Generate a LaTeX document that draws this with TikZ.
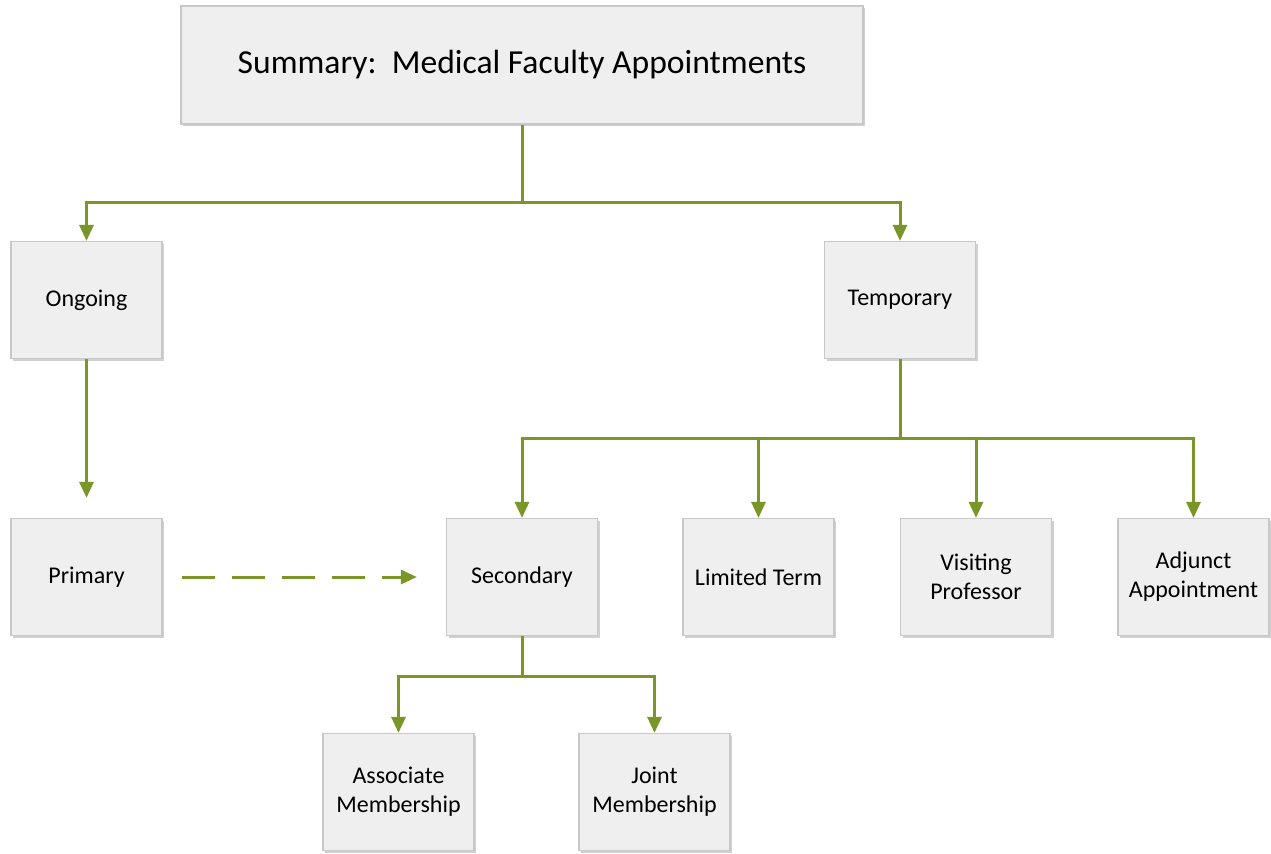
\documentclass[tikz,border=0pt]{standalone}
\usepackage{fontspec}
\setmainfont{Carlito}
\usepackage{tikz}
\usetikzlibrary{arrows.meta, shadows}

\definecolor{olive}{RGB}{122,150,40}
\definecolor{boxfill}{RGB}{239,239,239}
\definecolor{boxline}{RGB}{200,200,200}

\begin{document}
\begin{tikzpicture}[
  x=0.5pt, y=-0.5pt,
  every node/.style={font=\fontsize{12}{14.5}\selectfont},
  unit/.style={rectangle, draw=boxline, fill=boxfill, line width=0.6pt,
               minimum width=75.5pt, minimum height=58.5pt, align=center,
               drop shadow={shadow xshift=1pt, shadow yshift=-1pt,
                            fill=black!30, opacity=0.6}},
  link/.style={draw=olive, line width=1.5pt, -{Triangle[length=8pt, width=7pt]}}
]
  \useasboundingbox (0,0) rectangle (1271,853);

  % top level
  \node[unit, minimum width=341pt, minimum height=59pt,
        font=\fontsize{16.8}{20}\selectfont] (S) at (522,65)
        {Summary:\ \ Medical Faculty Appointments};

  % second level
  \node[unit] (O) at (86.5,300) {Ongoing};
  \node[unit] (T) at (900,300) {Temporary};

  % third level
  \node[unit] (P) at (86.5,577) {Primary};
  \node[unit] (Sec) at (522,577) {Secondary};
  \node[unit] (L) at (758.5,577) {Limited Term};
  \node[unit] (V) at (976,577) {Visiting\\Professor};
  \node[unit] (A) at (1193.5,577) {Adjunct\\Appointment};

  % fourth level
  \node[unit] (AM) at (398.5,792) {Associate\\Membership};
  \node[unit] (JM) at (654.5,792) {Joint\\Membership};

  % connectors
  \draw[link] (S.south) |- (522,202) -| (O.north);
  \draw[link] (S.south) |- (522,202) -| (T.north);
  \draw[link, shorten >=10pt] (O.south) -- (P.north);

  \foreach \n in {Sec, L, V, A}
    \draw[link] (T.south) |- (900,438) -| (\n.north);

  \foreach \n in {AM, JM}
    \draw[link] (Sec.south) |- (522,676) -| (\n.north);

  \draw[link, dash pattern=on 16.5pt off 8.5pt, shorten <=9.5pt, shorten >=14.5pt]
    (P.east) -- (Sec.west);
\end{tikzpicture}
\end{document}
